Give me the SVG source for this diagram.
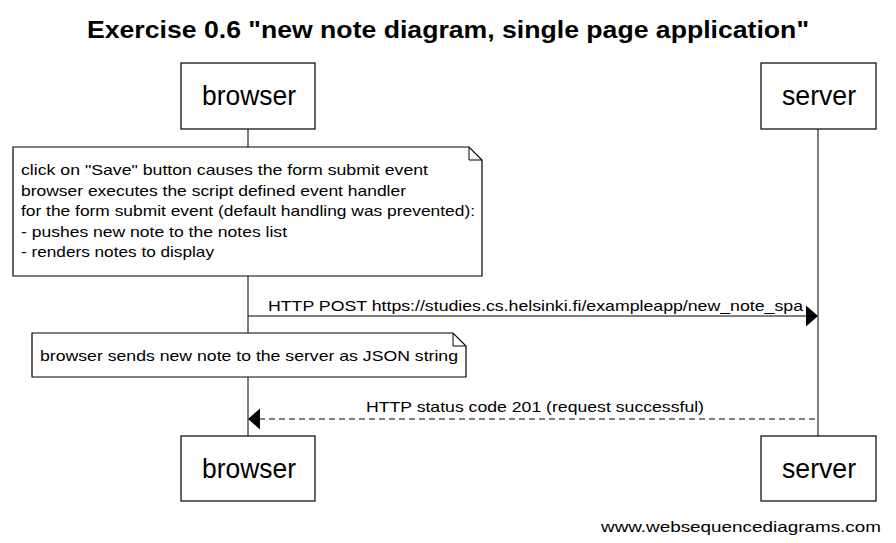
<svg xmlns="http://www.w3.org/2000/svg" width="896" height="543" viewBox="0 0 896 543">
<style>
text{font-family:"Liberation Sans",Arial,sans-serif;fill:#000}
.title{font-size:23px;font-weight:bold}
.actor{font-size:28px}
.note{font-size:15px}
.msg{font-size:15px}
.box{fill:#fff;stroke:#000;stroke-width:1.2}
.life{stroke:#000;stroke-width:1;fill:none}
.fold{fill:none;stroke:#000;stroke-width:1}
</style>
<rect width="896" height="543" fill="#fff"/>
<text class="title" x="87" y="38" textLength="722" lengthAdjust="spacingAndGlyphs">Exercise 0.6 "new note diagram, single page application"</text>
<g id="lifelines">
<line class="life" x1="248" y1="129" x2="248" y2="436"/>
<line class="life" x1="818" y1="129" x2="818" y2="436"/>
</g>
<g id="browser-top">
<rect class="box" x="181" y="63" width="134" height="66"/>
<text class="actor" x="202" y="105" textLength="94" lengthAdjust="spacingAndGlyphs">browser</text>
</g>
<g id="server-top">
<rect class="box" x="761" y="63" width="115" height="66"/>
<text class="actor" x="782" y="105" textLength="74" lengthAdjust="spacingAndGlyphs">server</text>
</g>
<g id="note1">
<path class="box" d="M13,147 H469 L482,160 V276 H13 Z"/>
<path class="fold" d="M469,147 V160 H482"/>
<text class="note" x="21" y="175" textLength="407" lengthAdjust="spacingAndGlyphs">click on "Save" button causes the form submit event</text>
<text class="note" x="21" y="195.5" textLength="385" lengthAdjust="spacingAndGlyphs">browser executes the script defined event handler</text>
<text class="note" x="21" y="216" textLength="454" lengthAdjust="spacingAndGlyphs">for the form submit event (default handling was prevented):</text>
<text class="note" x="21" y="236.5" textLength="266" lengthAdjust="spacingAndGlyphs">- pushes new note to the notes list</text>
<text class="note" x="21" y="257" textLength="193" lengthAdjust="spacingAndGlyphs">- renders notes to display</text>
</g>
<g id="note2">
<path class="box" d="M32,333 H453 L466,346 V377 H32 Z"/>
<path class="fold" d="M453,333 V346 H466"/>
<text class="note" x="40" y="361" textLength="418" lengthAdjust="spacingAndGlyphs">browser sends new note to the server as JSON string</text>
</g>
<g id="connectors">
<line x1="248" y1="316" x2="807" y2="316" stroke="#000" stroke-width="1"/>
<polygon points="806,305.5 818,316 806,326.5" fill="#000"/>
<text class="msg" x="268" y="311" textLength="535" lengthAdjust="spacingAndGlyphs">HTTP POST https://studies.cs.helsinki.fi/exampleapp/new_note_spa</text>
<line x1="259" y1="419" x2="818" y2="419" stroke="#000" stroke-width="1" stroke-dasharray="6,4"/>
<polygon points="260,408.5 248,419 260,429.5" fill="#000"/>
<text class="msg" x="366" y="412" textLength="338" lengthAdjust="spacingAndGlyphs">HTTP status code 201 (request successful)</text>
</g>
<g id="browser-bottom">
<rect class="box" x="181" y="436" width="134" height="65"/>
<text class="actor" x="202" y="478" textLength="94" lengthAdjust="spacingAndGlyphs">browser</text>
</g>
<g id="server-bottom">
<rect class="box" x="761" y="436" width="115" height="65"/>
<text class="actor" x="782" y="478" textLength="74" lengthAdjust="spacingAndGlyphs">server</text>
</g>
<text class="msg" x="601" y="532" textLength="280" lengthAdjust="spacingAndGlyphs">www.websequencediagrams.com</text>
</svg>
